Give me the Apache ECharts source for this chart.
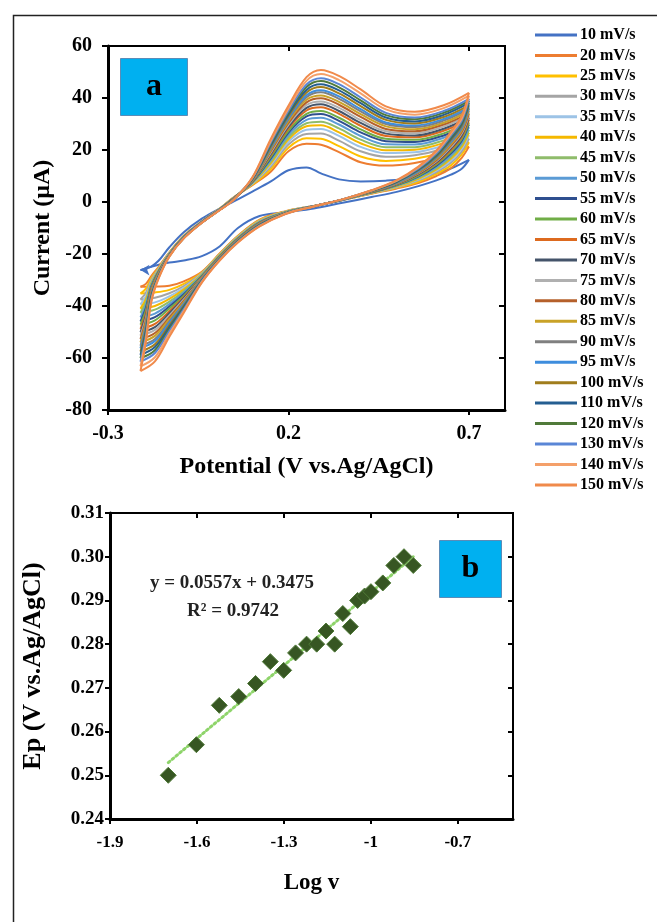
<!DOCTYPE html>
<html><head><meta charset="utf-8">
<script src="https://cdn.jsdelivr.net/npm/echarts@6/dist/echarts.min.js"></script>
<style>html,body{margin:0;padding:0;background:#fff}#c{width:657px;height:922px}</style>
</head><body><div id="c"></div>
<script>
// ---------- Panel a: cyclic voltammograms ----------
const scanRates = ['10 mV/s','20 mV/s','25 mV/s','30 mV/s','35 mV/s','40 mV/s','45 mV/s','50 mV/s','55 mV/s','60 mV/s','65 mV/s','70 mV/s','75 mV/s','80 mV/s','85 mV/s','90 mV/s','95 mV/s','100 mV/s','110 mV/s','120 mV/s','130 mV/s','140 mV/s','150 mV/s'];
const curveColors = ['#4472C4','#ED7D31','#FFC000','#A5A5A5','#9DC3E6','#F5B800','#8FBC6B','#5B9BD5','#2F4F8F','#70AD47','#DD6A1F','#44546A','#B0B0B0','#B5602B','#C9A227','#808080','#3E8DDD','#A07D1C','#255E91','#507A3A','#5A86D6','#F4A06A','#F08A4B'];
// forward (anodic) sweep potentials, V
const anodicE = [-0.21,-0.195,-0.18,-0.16,-0.13,-0.09,-0.04,0.01,0.05,0.10,0.15,0.20,0.25,0.29,0.34,0.40,0.47,0.55,0.63,0.70];
// reverse (cathodic) sweep potentials, V
const cathodicE = [0.70,0.68,0.65,0.61,0.56,0.50,0.43,0.35,0.27,0.19,0.12,0.06,0.01,-0.04,-0.09,-0.13,-0.17,-0.21];
// currents (µA), forward / reverse
const a10 = [-26.2,-25.6,-24.8,-22.6,-17.4,-11.6,-6.4,-2.5,0.3,4.0,7.8,12.2,13.3,11.0,8.7,7.9,8.2,9.3,11.8,16.2];
const c10 = [16.2,12.8,10.5,8.3,6.1,3.9,1.9,-0.3,-2.5,-4.0,-5.4,-10.0,-17.0,-20.8,-22.5,-23.3,-24.5,-26.2];
const a20 = [-32.6,-31.5,-28.5,-25.0,-19.4,-13.0,-7.4,-2.5,2.0,6.5,11.5,19.5,22.4,22.0,19.2,15.3,14.0,15.0,17.6,21.3];
const c20 = [21.3,17.0,13.0,10.0,7.3,5.2,3.2,0.8,-1.5,-3.6,-6.8,-13.0,-19.7,-26.8,-30.5,-32.2,-32.5,-32.6];
const a25 = [-35.2,-33.3,-29.3,-25.4,-19.5,-13.1,-7.5,-2.5,1.9,6.7,12.5,20.9,24.5,24.3,21.5,17.5,15.8,16.6,19.2,23.0];
const c25 = [23.0,18.3,14.1,10.8,7.8,5.5,3.3,0.8,-1.5,-3.7,-7.0,-13.2,-19.9,-27.1,-31.5,-33.8,-34.8,-35.2];
const a30 = [-37.5,-34.9,-30.0,-25.7,-19.6,-13.2,-7.5,-2.6,1.9,7.0,13.4,22.1,26.2,26.3,23.6,19.5,17.4,18.0,20.5,24.4];
const c30 = [24.4,19.4,15.1,11.5,8.3,5.7,3.4,0.8,-1.5,-3.8,-7.2,-13.4,-20.1,-27.4,-32.3,-35.1,-36.8,-37.5];
const a35 = [-39.4,-36.2,-30.6,-26.0,-19.7,-13.2,-7.5,-2.6,1.8,7.1,14.1,23.2,27.8,28.1,25.4,21.2,18.8,19.1,21.7,25.7];
const c35 = [25.7,20.4,15.9,12.1,8.6,5.9,3.5,0.8,-1.5,-3.8,-7.4,-13.5,-20.3,-27.7,-33.0,-36.3,-38.6,-39.4];
const a40 = [-41.0,-37.4,-31.1,-26.2,-19.8,-13.3,-7.6,-2.7,1.7,7.3,14.8,24.1,29.1,29.5,26.8,22.6,19.9,20.1,22.7,26.7];
const c40 = [26.7,21.2,16.6,12.5,8.9,6.0,3.5,0.9,-1.6,-3.9,-7.5,-13.7,-20.4,-27.9,-33.6,-37.3,-40.0,-41.0];
const a45 = [-42.6,-38.5,-31.6,-26.4,-19.9,-13.3,-7.6,-2.7,1.7,7.4,15.4,24.9,30.3,30.9,28.3,24.0,21.1,21.1,23.7,27.7];
const c45 = [27.7,22.0,17.3,13.0,9.3,6.2,3.6,0.9,-1.6,-3.9,-7.6,-13.8,-20.5,-28.1,-34.3,-38.3,-41.4,-42.6];
const a50 = [-44.3,-39.6,-32.1,-26.6,-20.0,-13.4,-7.6,-2.7,1.6,7.6,16.0,25.8,31.6,32.4,29.8,25.4,22.2,22.1,24.7,28.8];
const c50 = [28.8,22.8,18.0,13.5,9.6,6.4,3.7,0.9,-1.6,-4.0,-7.7,-13.9,-20.7,-28.3,-34.9,-39.3,-42.9,-44.3];
const a55 = [-45.9,-40.7,-32.6,-26.8,-20.1,-13.4,-7.7,-2.8,1.6,7.7,16.6,26.7,32.9,33.8,31.2,26.8,23.4,23.1,25.6,29.8];
const c55 = [29.8,23.6,18.7,14.0,9.9,6.5,3.7,0.9,-1.6,-4.1,-7.9,-14.1,-20.8,-28.5,-35.5,-40.2,-44.3,-45.9];
const a60 = [-47.2,-41.6,-33.0,-27.0,-20.1,-13.5,-7.7,-2.8,1.6,7.9,17.1,27.4,33.9,35.0,32.4,27.9,24.3,23.9,26.4,30.6];
const c60 = [30.6,24.2,19.3,14.4,10.1,6.6,3.8,0.9,-1.6,-4.1,-8.0,-14.2,-20.9,-28.7,-36.0,-41.0,-45.5,-47.2];
const a65 = [-48.8,-42.8,-33.5,-27.3,-20.2,-13.5,-7.7,-2.8,1.5,8.0,17.8,28.3,35.2,36.4,33.9,29.3,25.4,24.9,27.4,31.7];
const c65 = [31.7,25.0,20.0,14.9,10.5,6.8,3.9,0.9,-1.6,-4.2,-8.1,-14.3,-21.1,-28.9,-36.6,-42.0,-46.9,-48.8];
const a70 = [-50.1,-43.7,-33.9,-27.4,-20.3,-13.5,-7.7,-2.8,1.5,8.1,18.3,29.0,36.2,37.6,35.0,30.4,26.3,25.6,28.2,32.5];
const c70 = [32.5,25.6,20.6,15.3,10.7,6.9,3.9,0.9,-1.6,-4.2,-8.2,-14.4,-21.2,-29.1,-37.0,-42.8,-48.1,-50.1];
const a75 = [-51.4,-44.6,-34.3,-27.6,-20.3,-13.6,-7.8,-2.9,1.4,8.2,18.8,29.7,37.3,38.7,36.2,31.5,27.2,26.4,29.0,33.3];
const c75 = [33.3,26.3,21.1,15.7,11.0,7.1,4.0,0.9,-1.6,-4.2,-8.3,-14.5,-21.3,-29.2,-37.5,-43.6,-49.2,-51.4];
const a80 = [-52.7,-45.5,-34.7,-27.8,-20.4,-13.6,-7.8,-2.9,1.4,8.4,19.3,30.4,38.3,39.9,37.4,32.7,28.1,27.2,29.8,34.1];
const c80 = [34.1,26.9,21.7,16.1,11.2,7.2,4.0,0.9,-1.6,-4.3,-8.4,-14.6,-21.4,-29.4,-38.0,-44.4,-50.4,-52.7];
const a85 = [-54.0,-46.4,-35.1,-28.0,-20.5,-13.7,-7.8,-2.9,1.3,8.5,19.8,31.1,39.3,41.0,38.5,33.8,29.1,28.0,30.5,35.0];
const c85 = [35.0,27.6,22.2,16.5,11.5,7.3,4.1,0.9,-1.6,-4.3,-8.5,-14.7,-21.5,-29.6,-38.5,-45.1,-51.5,-54.0];
const a90 = [-55.3,-47.3,-35.5,-28.2,-20.5,-13.7,-7.8,-2.9,1.3,8.6,20.3,31.8,40.3,42.2,39.7,34.9,30.0,28.8,31.3,35.8];
const c90 = [35.8,28.2,22.8,16.9,11.7,7.4,4.1,0.9,-1.6,-4.4,-8.6,-14.8,-21.6,-29.7,-39.0,-45.9,-52.7,-55.3];
const a95 = [-56.3,-47.9,-35.8,-28.3,-20.6,-13.7,-7.8,-2.9,1.3,8.7,20.6,32.3,41.1,43.0,40.6,35.7,30.6,29.4,31.9,36.4];
const c95 = [36.4,28.7,23.2,17.2,11.9,7.5,4.2,0.9,-1.6,-4.4,-8.7,-14.9,-21.7,-29.9,-39.3,-46.5,-53.5,-56.3];
const a100 = [-57.5,-48.8,-36.2,-28.5,-20.6,-13.8,-7.9,-3.0,1.2,8.8,21.1,33.0,42.1,44.2,41.8,36.9,31.6,30.2,32.7,37.2];
const c100 = [37.2,29.3,23.8,17.5,12.2,7.7,4.2,1.0,-1.7,-4.5,-8.8,-15.0,-21.8,-30.0,-39.8,-47.3,-54.7,-57.5];
const a110 = [-58.8,-49.7,-36.6,-28.7,-20.7,-13.8,-7.9,-3.0,1.2,8.9,21.6,33.7,43.1,45.3,42.9,38.0,32.5,31.0,33.5,38.1];
const c110 = [38.1,30.0,24.3,17.9,12.4,7.8,4.3,1.0,-1.7,-4.5,-8.9,-15.1,-21.9,-30.2,-40.3,-48.1,-55.8,-58.8];
const a120 = [-60.1,-50.6,-37.0,-28.8,-20.8,-13.9,-7.9,-3.0,1.2,9.1,22.1,34.4,44.2,46.5,44.1,39.1,33.4,31.8,34.3,38.9];
const c120 = [38.9,30.6,24.9,18.3,12.7,7.9,4.3,1.0,-1.7,-4.5,-9.0,-15.2,-22.0,-30.4,-40.8,-48.9,-57.0,-60.1];
const a130 = [-61.4,-51.5,-37.4,-29.0,-20.8,-13.9,-7.9,-3.0,1.1,9.2,22.6,35.1,45.2,47.6,45.3,40.2,34.3,32.5,35.0,39.7];
const c130 = [39.7,31.2,25.5,18.7,12.9,8.1,4.4,1.0,-1.7,-4.6,-9.1,-15.3,-22.1,-30.5,-41.3,-49.6,-58.1,-61.4];
const a140 = [-63.2,-52.8,-38.0,-29.3,-20.9,-14.0,-8.0,-3.1,1.1,9.3,23.3,36.0,46.6,49.2,46.9,41.8,35.6,33.6,36.1,40.9];
const c140 = [40.9,32.1,26.2,19.3,13.3,8.2,4.4,1.0,-1.7,-4.6,-9.3,-15.5,-22.3,-30.8,-41.9,-50.7,-59.7,-63.2];
const a150 = [-65.0,-54.0,-38.5,-29.5,-21.0,-14.0,-8.0,-3.1,1.0,9.5,24.0,37.0,48.0,50.8,48.5,43.3,36.8,34.7,37.2,42.0];
const c150 = [42.0,33.0,27.0,19.8,13.6,8.4,4.5,1.0,-1.7,-4.7,-9.4,-15.6,-22.4,-31.0,-42.6,-51.8,-61.3,-65.0];
const forwardI = [a10,a20,a25,a30,a35,a40,a45,a50,a55,a60,a65,a70,a75,a80,a85,a90,a95,a100,a110,a120,a130,a140,a150];
const reverseI = [c10,c20,c25,c30,c35,c40,c45,c50,c55,c60,c65,c70,c75,c80,c85,c90,c95,c100,c110,c120,c130,c140,c150];
const potTicks = [-0.3, 0.2, 0.7];

// ---------- Panel b: peak potential vs log v ----------
const logV = [-1.699,-1.602,-1.523,-1.456,-1.398,-1.347,-1.301,-1.260,-1.222,-1.187,-1.155,-1.125,-1.097,-1.071,-1.046,-1.022,-1.000,-0.959,-0.921,-0.886,-0.854];
const Ep = [0.250,0.257,0.266,0.268,0.271,0.276,0.274,0.278,0.280,0.280,0.283,0.280,0.287,0.284,0.290,0.291,0.292,0.294,0.298,0.300,0.298];
const trendX = [-1.699, -0.854];
const trendY = [0.2529, 0.3000];
const logTicks = [-1.9, -1.6, -1.3, -1.0, -0.7];
const trendText = ['y = 0.0557x + 0.3475', 'R² = 0.9742'];

const FONT = '"Liberation Serif","Times New Roman",serif';
const chart = echarts.init(document.getElementById('c'), null, {renderer: 'canvas'});

const series = [];
scanRates.forEach((name, k) => {
  const common = {type: 'line', name, xAxisIndex: 0, yAxisIndex: 0, showSymbol: false, smooth: 0.35,
    animation: false, silent: true, lineStyle: {width: 2, color: curveColors[k]}, itemStyle: {color: curveColors[k]}, z: 2};
  series.push(Object.assign({}, common, {data: anodicE.map((e, i) => [e, forwardI[k][i]])}));
  const rev = cathodicE.map((e, i) => [e, reverseI[k][i]]);
  if (k === 0) {
    // scan-direction arrowhead at the end of the slowest sweep
    const last = rev.length - 1;
    const revData = rev.map((p, i) => i === last
      ? {value: p, symbol: 'arrow', symbolSize: [8, 9], symbolRotate: 90, itemStyle: {color: curveColors[0]}}
      : {value: p, symbol: 'none'});
    series.push(Object.assign({}, common, {data: revData, showSymbol: true, symbol: 'none'}));
  } else {
    series.push(Object.assign({}, common, {data: rev}));
  }
});
series.push({type: 'line', name: 'trend', xAxisIndex: 2, yAxisIndex: 2, showSymbol: false, silent: true, animation: false,
  data: trendX.map((x, i) => [x, trendY[i]]), lineStyle: {type: [2, 3], width: 3, color: '#8ED46A', cap: 'round'}, z: 3});
series.push({type: 'scatter', name: 'Ep', xAxisIndex: 2, yAxisIndex: 2, symbol: 'diamond', symbolSize: 16, animation: false,
  data: logV.map((x, i) => [x, Ep[i]]), itemStyle: {color: '#375623', opacity: 1, borderColor: '#4F7A37', borderWidth: 1}, z: 4});

const lab = (size) => ({fontFamily: FONT, fontWeight: 'bold', fontSize: size, color: '#000'});
const axisLineStyle = {show: true, onZero: false, lineStyle: {color: '#000', width: 3}};
const noLine = {show: false, onZero: false};

const option = {
  backgroundColor: '#fff',
  animation: false,
  grid: [
    {left: 108, top: 46, width: 397, height: 364, show: true, borderColor: '#000', borderWidth: 2, containLabel: false},
    {left: 110, top: 513, width: 403, height: 306, show: true, borderColor: '#000', borderWidth: 2, containLabel: false}
  ],
  legend: {
    orient: 'vertical', left: 535, top: 26.5, padding: 0, itemGap: 3.45, itemWidth: 42, itemHeight: 3, icon: 'rect',
    selectedMode: false, data: scanRates,
    textStyle: Object.assign(lab(16), {lineHeight: 17, padding: [0, 0, 0, -2]})
  },
  xAxis: [
    {type: 'value', gridIndex: 0, min: -0.3, max: 0.8, interval: 0.5, splitLine: {show: false},
      axisLine: axisLineStyle, axisTick: {show: true, length: 5, lineStyle: {width: 2, color: '#000'}, customValues: potTicks},
      axisLabel: Object.assign(lab(20), {margin: 14, customValues: potTicks, formatter: v => v.toFixed(1)}),
      name: 'Potential (V vs.Ag/AgCl)', nameLocation: 'middle', nameGap: 45, nameTextStyle: lab(24)},
    {type: 'value', gridIndex: 0, min: -0.3, max: 0.8, interval: 0.5, splitLine: {show: false}, axisLine: noLine,
      axisTick: {show: true, inside: true, length: 5, lineStyle: {width: 2, color: '#000'}, customValues: potTicks}, axisLabel: {show: false}},
    {type: 'value', gridIndex: 1, min: -1.9, max: -0.51, interval: 0.3, splitLine: {show: false},
      axisLine: axisLineStyle, axisTick: {show: true, length: 5, lineStyle: {width: 2, color: '#000'}, customValues: logTicks},
      axisLabel: Object.assign(lab(17), {margin: 15, customValues: logTicks, formatter: v => String(+v.toFixed(1))}),
      name: 'Log v', nameLocation: 'middle', nameGap: 53, nameTextStyle: lab(23)},
    {type: 'value', gridIndex: 1, min: -1.9, max: -0.51, interval: 0.3, splitLine: {show: false}, axisLine: noLine,
      axisTick: {show: true, inside: true, length: 5, lineStyle: {width: 2, color: '#000'}, customValues: logTicks}, axisLabel: {show: false}}
  ],
  yAxis: [
    {type: 'value', gridIndex: 0, min: -80, max: 60, interval: 20, splitLine: {show: false},
      axisLine: axisLineStyle, axisTick: {show: true, length: 6, lineStyle: {width: 2, color: '#000'}},
      axisLabel: Object.assign(lab(20), {margin: 16}),
      name: 'Current (µA)', nameLocation: 'middle', nameRotate: 90, nameGap: 51, nameTextStyle: lab(24)},
    {type: 'value', gridIndex: 0, min: -80, max: 60, interval: 20, splitLine: {show: false}, axisLine: noLine,
      axisTick: {show: true, inside: true, length: 6, lineStyle: {width: 2, color: '#000'}}, axisLabel: {show: false}},
    {type: 'value', gridIndex: 1, min: 0.24, max: 0.31, interval: 0.01, splitLine: {show: false},
      axisLine: axisLineStyle, axisTick: {show: true, length: 5, lineStyle: {width: 2, color: '#000'}},
      axisLabel: Object.assign(lab(19), {margin: 6, formatter: v => v.toFixed(2)}),
      name: 'Ep (V vs.Ag/AgCl)', nameLocation: 'middle', nameRotate: 90, nameGap: 64, nameTextStyle: lab(26)},
    {type: 'value', gridIndex: 1, min: 0.24, max: 0.31, interval: 0.01, splitLine: {show: false}, axisLine: noLine,
      axisTick: {show: true, inside: true, length: 5, lineStyle: {width: 2, color: '#000'}}, axisLabel: {show: false}}
  ],
  graphic: [
    {type: 'rect', left: 11, top: 13, z: -10, silent: true, shape: {width: 700, height: 1000}, style: {fill: 'none', stroke: '#222', lineWidth: 1.5}},
    {type: 'group', left: 120, top: 58, children: [
      {type: 'rect', shape: {width: 67, height: 57}, style: {fill: '#00B0F0', stroke: '#5A8CB8', lineWidth: 1}},
      {type: 'text', x: 33.5, y: 28.5, style: {text: 'a', font: 'bold 32px ' + FONT, fill: '#000', align: 'center', verticalAlign: 'middle'}}
    ]},
    {type: 'group', left: 439, top: 540, children: [
      {type: 'rect', shape: {width: 62, height: 57}, style: {fill: '#00B0F0', stroke: '#5A8CB8', lineWidth: 1}},
      {type: 'text', x: 31, y: 28.5, style: {text: 'b', font: 'bold 32px ' + FONT, fill: '#000', align: 'center', verticalAlign: 'middle'}}
    ]},
    {type: 'text', x: 232, y: 583, style: {text: trendText[0], font: 'bold 19px ' + FONT, fill: '#222', align: 'center', verticalAlign: 'middle'}},
    {type: 'text', x: 233, y: 611, style: {text: trendText[1], font: 'bold 19px ' + FONT, fill: '#222', align: 'center', verticalAlign: 'middle'}}
  ],
  series
};
chart.setOption(option);
</script>
</body></html>
